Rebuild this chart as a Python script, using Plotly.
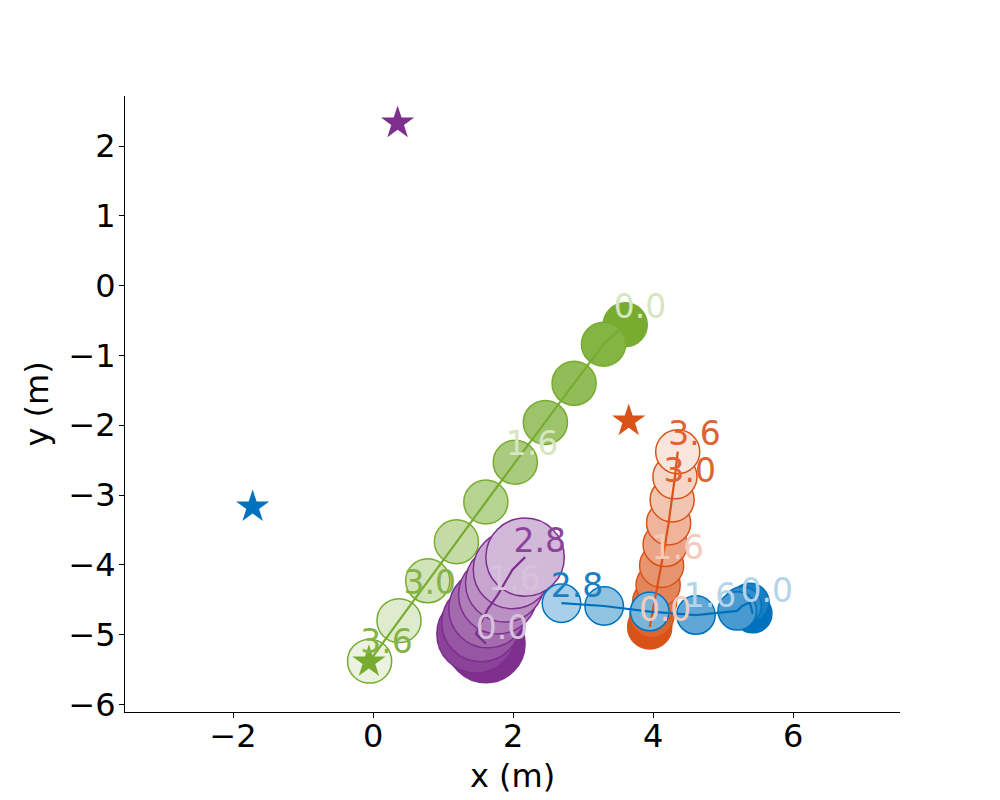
import plotly.graph_objects as go

# agent trajectories, one circle every 0.4 s (t = 0.0 first)
green_x = [3.60, 3.29, 2.87, 2.46, 2.03, 1.61, 1.19, 0.78, 0.37, -0.05]
green_y = [-0.56, -0.84, -1.40, -1.96, -2.53, -3.10, -3.67, -4.23, -4.80, -5.38]
purple_x = [1.61, 1.47, 1.54, 1.64, 1.78, 1.88, 1.99, 2.17]
purple_y = [-5.13, -4.99, -4.83, -4.63, -4.43, -4.26, -4.07, -3.89]
orange_x = [3.95, 3.98, 4.02, 4.07, 4.12, 4.17, 4.22, 4.27, 4.31, 4.35]
orange_y = [-4.89, -4.73, -4.53, -4.29, -4.01, -3.71, -3.40, -3.07, -2.74, -2.38]
blue_x = [5.42, 5.38, 5.27, 5.20, 4.61, 3.95, 3.30, 2.69]
blue_y = [-4.70, -4.54, -4.59, -4.66, -4.72, -4.67, -4.59, -4.55]

# agent radii (m)
radius = {'green': 0.315, 'purple': 0.56, 'orange': 0.315, 'blue': 0.275}

# goals
goal_x = {'green': -0.06, 'purple': 0.35, 'orange': 3.65, 'blue': -1.72}
goal_y = {'green': -5.39, 'purple': 2.33, 'orange': -1.94, 'blue': -3.17}

# time stamps written next to the trajectories
green_lbl = ['0.0', '1.6', '3.0', '3.6']
green_lbl_x = [3.81, 2.27, 0.81, 0.19]
green_lbl_y = [-0.29, -2.25, -4.24, -5.09]
purple_lbl = ['0.0', '1.6', '2.8']
purple_lbl_x = [1.84, 2.02, 2.38]
purple_lbl_y = [-4.89, -4.19, -3.64]
orange_lbl = ['0.0', '1.6', '3.0', '3.6']
orange_lbl_x = [4.17, 4.35, 4.52, 4.59]
orange_lbl_y = [-4.63, -3.74, -2.64, -2.11]
blue_lbl = ['0.0', '1.6', '2.8']
blue_lbl_x = [5.62, 4.81, 2.91]
blue_lbl_y = [-4.36, -4.43, -4.29]

colors = {
    'green': (119, 172, 48),
    'purple': (126, 47, 142),
    'orange': (217, 83, 25),
    'blue': (0, 114, 189),
}

agents = [
    ('green', green_x, green_y, green_lbl, green_lbl_x, green_lbl_y),
    ('purple', purple_x, purple_y, purple_lbl, purple_lbl_x, purple_lbl_y),
    ('orange', orange_x, orange_y, orange_lbl, orange_lbl_x, orange_lbl_y),
    ('blue', blue_x, blue_y, blue_lbl, blue_lbl_x, blue_lbl_y),
]

FONT = 'DejaVu Sans'
DT = 0.4
T_MAX = 3.6
LBL_DY = -0.055  # plotly centres the text box, digits sit a bit high


def rgb(c):
    return 'rgb(%d,%d,%d)' % c


def fade(c, a):
    # colour blended with white
    return 'rgb(%d,%d,%d)' % tuple(round(255 - a * (255 - v)) for v in c)


fig = go.Figure()
shapes = []

for name, xs, ys, lbl, lx, ly in agents:
    c = colors[name]
    r = radius[name]
    for i, (x, y) in enumerate(zip(xs, ys)):
        a = 1 - 0.85 * (i * DT) / T_MAX
        shapes.append(dict(
            type='circle', xref='x', yref='y', layer='below',
            x0=x - r, x1=x + r, y0=y - r, y1=y + r,
            fillcolor=fade(c, a), line=dict(color=rgb(c), width=1.5),
        ))
    fig.add_trace(go.Scatter(
        x=xs, y=ys, mode='lines', line=dict(color=rgb(c), width=2.2),
        hoverinfo='skip', showlegend=False,
    ))

for name, xs, ys, lbl, lx, ly in agents:
    c = colors[name]
    fig.add_trace(go.Scatter(
        x=[goal_x[name]], y=[goal_y[name]], mode='markers',
        marker=dict(symbol='star', size=25, color=rgb(c), line=dict(width=0)),
        hoverinfo='skip', showlegend=False,
    ))

for name, xs, ys, lbl, lx, ly in agents:
    c = colors[name]
    txt_cols = [fade(c, 0.3) if float(t) < 2.0 else fade(c, 0.9) for t in lbl]
    fig.add_trace(go.Scatter(
        x=lx, y=[v + LBL_DY for v in ly], mode='text', text=lbl,
        textposition='middle center',
        textfont=dict(family=FONT, size=33, color=txt_cols),
        hoverinfo='skip', showlegend=False,
    ))

axis_style = dict(
    showgrid=False, zeroline=False, showline=True, linecolor='black',
    linewidth=1, ticks='outside', ticklen=5, tickwidth=1, tickcolor='black',
    tickfont=dict(family=FONT, size=32, color='black'), mirror=False,
    automargin=False,
)

# the page body adds an 8 px offset, so the figure is 8 px smaller
fig.update_layout(
    width=992, height=792, autosize=False,
    margin=dict(l=117, r=100, t=88, b=88),
    plot_bgcolor='white', paper_bgcolor='white',
    shapes=shapes,
    xaxis=dict(range=[-3.543, 7.524], tickvals=[-2, 0, 2, 4, 6],
               ticklabelstandoff=-9,
               title=dict(text='x (m)', standoff=10,
                          font=dict(family=FONT, size=32, color='black')),
               **axis_style),
    yaxis=dict(range=[-6.109, 2.717], tickvals=list(range(-6, 3)),
               ticklabelstandoff=-3,
               title=dict(text='y (m)', standoff=10,
                          font=dict(family=FONT, size=32, color='black')),
               **axis_style),
)

fig.write_html('out.html')
